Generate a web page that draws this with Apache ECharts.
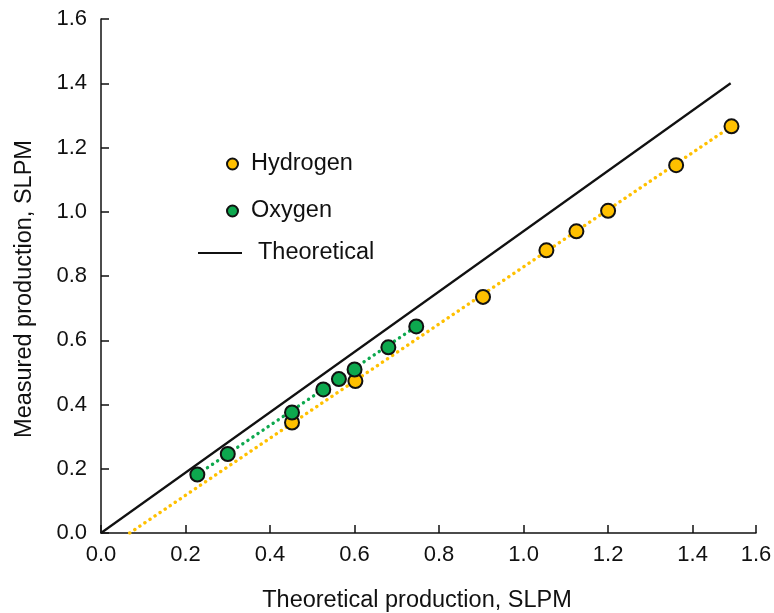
<!DOCTYPE html>
<html>
<head>
<meta charset="utf-8">
<script src="https://cdn.jsdelivr.net/npm/echarts@6/dist/echarts.min.js"></script>
<style>html,body{margin:0;padding:0;background:#fff}#c{width:774px;height:613px}</style>
</head>
<body>
<div id="c"></div>
<script>
var hydrogen = [[0.452,0.344],[0.602,0.473],[0.904,0.735],[1.054,0.880],[1.125,0.939],[1.200,1.003],[1.361,1.145],[1.492,1.266]];
var oxygen = [[0.228,0.182],[0.300,0.246],[0.452,0.375],[0.526,0.447],[0.563,0.479],[0.600,0.509],[0.680,0.578],[0.746,0.643]];
var hydrogenFit = [[0.068,0.0],[1.492,1.266]];
var oxygenFit = [[0.228,0.182],[0.746,0.643]];
var theoretical = [[0,0],[1.49,1.40]];
var xMin = 0, xMax = 1.55, xStep = 0.2;
var yMin = 0, yMax = 1.6, yStep = 0.2;

var FONT = 'Liberation Sans, Arial, sans-serif';
var YEL = '#FFC000', GRN = '#0DA84E';
var chart = echarts.init(document.getElementById('c'), null, {renderer:'canvas'});
chart.setOption({
  animation:false,
  backgroundColor:'#fff',
  grid:{left:101,right:18,top:19,bottom:80,containLabel:false,outerBoundsMode:'none'},
  legend:[{
    data:['Hydrogen','Oxygen'],
    orient:'vertical', left:221, top:147,
    itemWidth:11, itemHeight:11, itemGap:23,
    icon:'circle',
    textStyle:{fontFamily:FONT,fontSize:23.5,color:'#111',padding:[0,0,0,8]}
  },{
    data:[{name:'Theoretical', icon:'rect'}],
    orient:'vertical', left:193, top:236,
    itemWidth:44, itemHeight:2,
    itemStyle:{color:'#111',borderWidth:0},
    textStyle:{fontFamily:FONT,fontSize:23.5,color:'#111',padding:[0,0,0,11]}
  }],
  xAxis:{
    type:'value', min:xMin, max:xMax, interval:xStep,
    name:'Theoretical production, SLPM', nameLocation:'middle', nameGap:56,
    nameTextStyle:{fontFamily:FONT,fontSize:23.5,color:'#111',padding:[0,23,0,0]},
    axisLine:{lineStyle:{color:'#111',width:1.5}},
    axisTick:{inside:true,length:8,lineStyle:{color:'#111',width:1.5}},
    axisLabel:{fontFamily:FONT,fontSize:22,color:'#111',margin:11,showMaxLabel:true,
      formatter:function(v){return v.toFixed(1);}},
    splitLine:{show:false}
  },
  yAxis:{
    type:'value', min:yMin, max:yMax, interval:yStep,
    name:'Measured production, SLPM', nameLocation:'middle', nameGap:64,
    nameTextStyle:{fontFamily:FONT,fontSize:23.5,color:'#111',padding:[0,26,0,0]},
    axisLine:{show:true,lineStyle:{color:'#111',width:1.5}},
    axisTick:{show:true,inside:true,length:8,lineStyle:{color:'#111',width:1.5}},
    axisLabel:{fontFamily:FONT,fontSize:22,color:'#111',margin:14,
      formatter:function(v){return v.toFixed(1);}},
    splitLine:{show:false}
  },
  series:[
    {name:'Theoretical', type:'line', data:theoretical, symbol:'none',
      lineStyle:{color:'#111',width:2.2}, itemStyle:{color:'#111'}, z:2},
    {name:'HydrogenFit', type:'line', data:hydrogenFit, symbol:'none',
      lineStyle:{color:YEL,width:3.4,type:[0.1,6],cap:'round'}, z:1},
    {name:'OxygenFit', type:'line', data:oxygenFit, symbol:'none',
      lineStyle:{color:GRN,width:3.4,type:[0.1,6],cap:'round'}, z:1},
    {name:'Hydrogen', type:'scatter', data:hydrogen, symbol:'circle', symbolSize:14,
      itemStyle:{color:YEL,borderColor:'#111',borderWidth:2,opacity:1}, z:3},
    {name:'Oxygen', type:'scatter', data:oxygen, symbol:'circle', symbolSize:14,
      itemStyle:{color:GRN,borderColor:'#111',borderWidth:2,opacity:1}, z:4}
  ]
});
</script>
</body>
</html>
